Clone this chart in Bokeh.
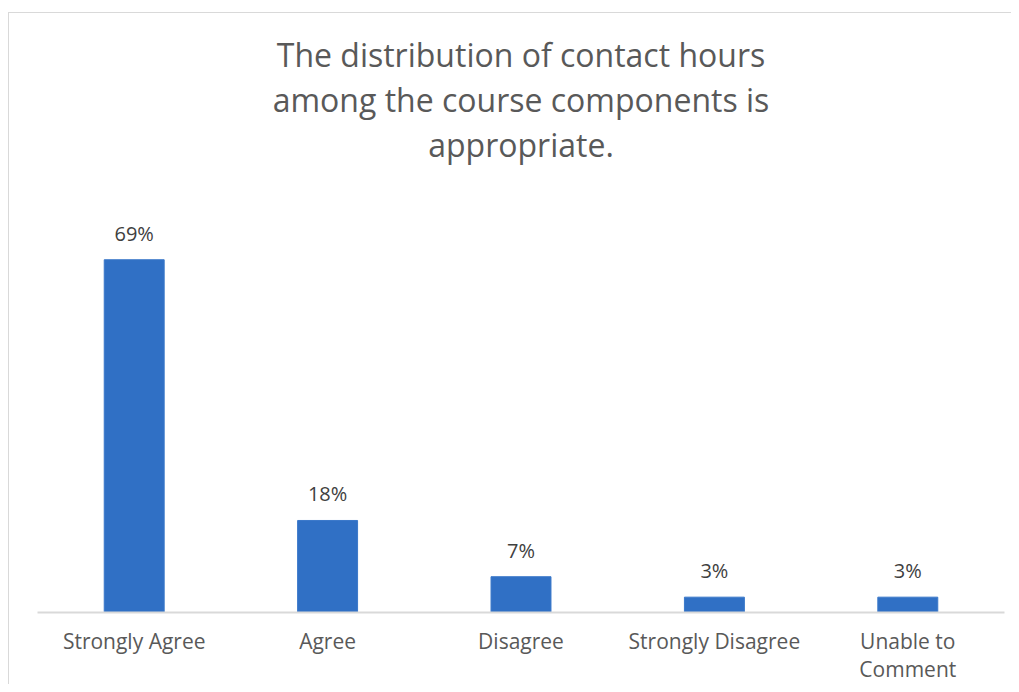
from bokeh.plotting import figure
from bokeh.models import ColumnDataSource, LabelSet, Range1d, Title
from bokeh.core.properties import value
from bokeh.embed import file_html
from bokeh.resources import INLINE

categories = ["Strongly Agree", "Agree", "Disagree", "Strongly Disagree", "Unable to\nComment"]
values = [69, 18, 7, 3, 3]
labels = ["69%", "18%", "7%", "3%", "3%"]
title_lines = ["The distribution of contact hours", "among the course components is", "appropriate."]

FONT = "Open Sans"
src = ColumnDataSource(data=dict(cat=categories, val=values, lab=labels))

p = figure(x_range=categories, y_range=Range1d(0, 80), width=1003, height=672,
           output_backend="svg", toolbar_location=None,
           min_border_left=28, min_border_right=8, min_border_bottom=73, min_border_top=190)
p.margin = (12, 0, 0, 8)
p.styles = {"border-top": "1px solid #d9d9d9", "border-left": "1px solid #d9d9d9"}
p.outline_line_color = None
p.background_fill_color = "white"
p.border_fill_color = "white"
p.grid.visible = False
p.yaxis.visible = False
p.x_range.range_padding = 0

p.vbar(x="cat", top="val", width=0.31, source=src, fill_color="#3070c5", line_color="#3a78c9", line_width=1)

ls = LabelSet(x="cat", y="val", text="lab", source=src, text_align="center", text_baseline="bottom",
              y_offset=13, text_font=value(FONT), text_font_size="20px", text_color="#404040")
p.add_layout(ls)

xa = p.xaxis[0]
xa.axis_line_color = "#d9d9d9"
xa.axis_line_width = 2
xa.major_tick_line_color = None
xa.minor_tick_line_color = None
xa.major_label_text_font = FONT
xa.major_label_text_font_size = "21px"
xa.major_label_text_line_height = 1.0
xa.major_label_text_color = "#595959"
xa.major_label_standoff = 8

# spacer between the title block and the plot area
p.add_layout(Title(text=" ", text_font_size="10px", standoff=25), "above")
for t in reversed(title_lines):
    p.add_layout(Title(text=t, align="center", text_font=FONT, text_font_size="32px",
                       text_font_style="normal", text_color="#595959", standoff=0), "above")

open("out.html", "w").write(file_html(p, INLINE))
